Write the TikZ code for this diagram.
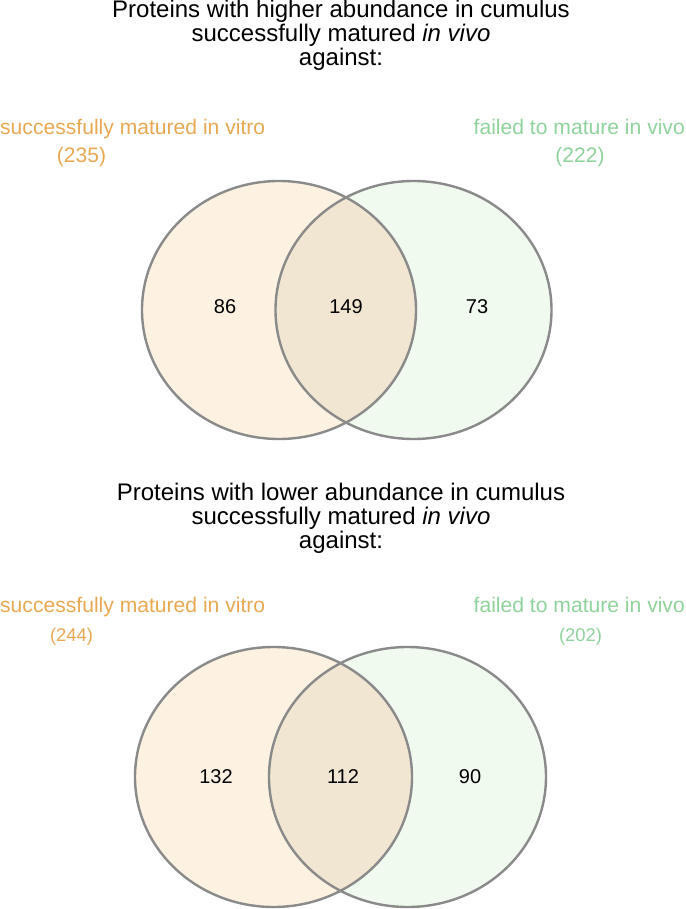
\documentclass[tikz,border=0pt]{standalone}
\usepackage{fontspec}
\setmainfont{Liberation Sans}
\definecolor{vitro}{RGB}{232,168,82}
\definecolor{vivo}{RGB}{143,210,155}
\definecolor{lfill}{RGB}{253,242,225}
\definecolor{rfill}{RGB}{240,250,239}
\definecolor{ofill}{RGB}{240,230,210}
\definecolor{edge}{RGB}{138,138,138}
\tikzset{
  title/.style={anchor=base, font=\fontsize{24}{27}\selectfont, text=black, inner sep=0pt},
  lab/.style={anchor=base, font=\fontsize{21.1}{24}\selectfont, inner sep=0pt},
  cnt/.style={anchor=base, font=\fontsize{21}{24}\selectfont, inner sep=0pt},
  cntsm/.style={anchor=base, font=\fontsize{18.4}{21}\selectfont, inner sep=0pt},
  num/.style={anchor=center, font=\fontsize{20}{24}\selectfont, text=black, inner sep=0pt},
  outline/.style={draw=edge, line width=2.4pt}
}
\begin{document}
\begin{tikzpicture}[x=1pt, y=-1pt]
\useasboundingbox (0,0) rectangle (685,909);
% ---------- top titles
\node[title] (t1) at (341,18) {Proteins with higher abundance in cumulus};
\node[title] (t2) at (341,42) {successfully matured \textit{in vivo}};
\node[title] (t3) at (341,66) {against:};
\node[lab, text=vitro, anchor=base west] (l1) at (0,135) {successfully matured in vitro};
\node[cnt, text=vitro] (c1) at (81.5,163) {(235)};
\node[lab, text=vivo, anchor=base east] (r1) at (685,135) {failed to mature in vivo};
\node[cnt, text=vivo] (d1) at (580,163) {(222)};
% ---------- top venn
\fill[lfill] (279,310) ellipse [x radius=137, y radius=129];
\fill[rfill] (413.5,310) ellipse [x radius=138, y radius=129];
\begin{scope}
\clip (279,310) ellipse [x radius=137, y radius=129];
\fill[ofill] (413.5,310) ellipse [x radius=138, y radius=129];
\end{scope}
\draw[outline] (279,310) ellipse [x radius=137, y radius=129];
\draw[outline] (413.5,310) ellipse [x radius=138, y radius=129];
\node[num] (n1) at (225,307) {86};
\node[num] (n2) at (346,307) {149};
\node[num] (n3) at (477,307) {73};
% ---------- bottom titles
\node[title] (b1) at (341,500) {Proteins with lower abundance in cumulus};
\node[title] (b2) at (341,524) {successfully matured \textit{in vivo}};
\node[title] (b3) at (341,548) {against:};
\node[lab, text=vitro, anchor=base west] (l2) at (0,612) {successfully matured in vitro};
\node[cntsm, text=vitro] (c2) at (71.5,641) {(244)};
\node[lab, text=vivo, anchor=base east] (r2) at (685,612) {failed to mature in vivo};
\node[cntsm, text=vivo] (d2) at (580.5,641) {(202)};
% ---------- bottom venn
\fill[lfill] (273.5,777) ellipse [x radius=138.5, y radius=130];
\fill[rfill] (407.5,777) ellipse [x radius=138.5, y radius=130];
\begin{scope}
\clip (273.5,777) ellipse [x radius=138.5, y radius=130];
\fill[ofill] (407.5,777) ellipse [x radius=138.5, y radius=130];
\end{scope}
\draw[outline] (273.5,777) ellipse [x radius=138.5, y radius=130];
\draw[outline] (407.5,777) ellipse [x radius=138.5, y radius=130];
\node[num] (m1) at (216,777) {132};
\node[num] (m2) at (343,777) {112};
\node[num] (m3) at (470,777) {90};
\end{tikzpicture}
\end{document}
